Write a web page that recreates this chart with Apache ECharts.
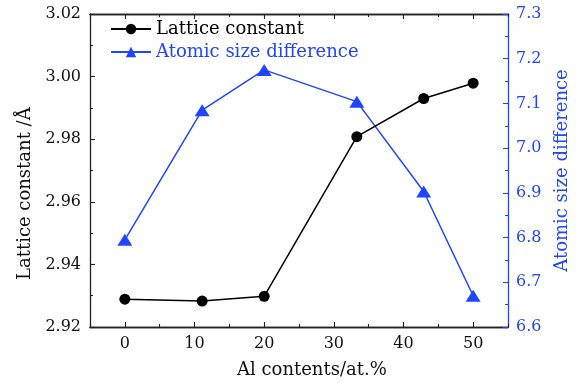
<!DOCTYPE html>
<html>
<head>
<meta charset="utf-8">
<script src="https://cdn.jsdelivr.net/npm/echarts@6/dist/echarts.min.js"></script>
<style>
  html, body { margin: 0; padding: 0; background: #fff; }
  #chart { width: 579px; height: 385px; }
</style>
</head>
<body>
<div id="chart"></div>
<script>
// Al content (at.%) of each alloy
const alContent = [0, 11.1, 20, 33.3, 42.9, 50];
// Lattice constant (Å)
const latticeConstant = [2.9289, 2.9283, 2.9298, 2.9808, 2.9930, 2.9979];
// Atomic size difference
const atomicSizeDiff = [6.795, 7.085, 7.175, 7.104, 6.903, 6.670];
// x-axis tick positions
const xMajorTicks = [0, 10, 20, 30, 40, 50];
const xMinorTicks = [-5, 5, 15, 25, 35, 45, 55];

const BLACK = '#000000';
const BLUE = '#1f45ff';
const FONT = 'DejaVu Serif';

const toPairs = (xs, ys) => xs.map((x, i) => [x, ys[i]]);

const chart = echarts.init(document.getElementById('chart'), null, { renderer: 'canvas' });

// builds one x axis: major ticks with labels, or minor ticks only
function makeX(position, ticks, len, withLabels) {
  return {
    type: 'value', min: -5, max: 55, position: position,
    splitLine: { show: false },
    axisLine: { show: true, onZero: false, lineStyle: { color: '#222', width: 1.3 } },
    axisTick: { show: true, inside: true, length: len, customValues: ticks,
                lineStyle: { color: '#222', width: 1.1 } },
    axisLabel: withLabels
      ? { show: true, margin: 9, color: '#111', fontFamily: FONT, fontSize: 16, customValues: ticks }
      : { show: false }
  };
}

chart.setOption({
  animation: false,
  backgroundColor: '#fff',
  grid: { left: 90, right: 66, top: 14, bottom: 58, containLabel: false },
  legend: {
    left: 105, top: 15, orient: 'vertical',
    itemWidth: 40, itemHeight: 13, itemGap: 5,
    textStyle: { fontFamily: FONT, fontSize: 18, color: BLACK },
    data: [
      { name: 'Lattice constant', textStyle: { color: BLACK } },
      { name: 'Atomic size difference', textStyle: { color: BLUE } }
    ]
  },
  xAxis: [
    makeX('bottom', xMajorTicks, 5, true),
    makeX('bottom', xMinorTicks, 3, false),
    makeX('top', xMajorTicks, 5, false),
    makeX('top', xMinorTicks, 3, false)
  ],
  yAxis: [
    {
      type: 'value', position: 'left', min: 2.92, max: 3.02, interval: 0.02,
      splitLine: { show: false },
      axisLine: { show: true, onZero: false, lineStyle: { color: '#222', width: 1.3 } },
      axisTick: { show: true, inside: true, length: 5, lineStyle: { color: '#222', width: 1.1 } },
      minorTick: { show: true, splitNumber: 2, length: 3, lineStyle: { color: '#222', width: 1.1 } },
      axisLabel: {
        margin: 9, color: '#111', fontFamily: FONT, fontSize: 16,
        formatter: v => v.toFixed(2)
      }
    },
    {
      type: 'value', position: 'right', min: 6.6, max: 7.3, interval: 0.1,
      splitLine: { show: false },
      axisLine: { show: true, onZero: false, lineStyle: { color: BLUE, width: 1.3 } },
      axisTick: { show: true, inside: true, length: 5, lineStyle: { color: BLUE, width: 1.1 } },
      minorTick: { show: true, splitNumber: 2, length: 3, lineStyle: { color: BLUE, width: 1.1 } },
      axisLabel: {
        margin: 8, color: BLUE, fontFamily: FONT, fontSize: 16,
        formatter: v => v.toFixed(1)
      },
      name: 'Atomic size difference',
      nameLocation: 'middle', nameRotate: 90, nameGap: 45,
      nameTextStyle: { color: BLUE, fontFamily: FONT, fontSize: 18 }
    }
  ],
  graphic: [
    {
      type: 'text', left: 237, top: 361,
      style: { text: 'Al contents/at.%', fill: '#111', font: '18px "DejaVu Serif"' }
    },
    {
      type: 'text', x: 16, y: 280, rotation: Math.PI / 2,
      style: { text: 'Lattice constant /Å', fill: '#111', font: '18px "DejaVu Serif"' }
    }
  ],
  series: [
    {
      name: 'Lattice constant', type: 'line',
      xAxisIndex: 0, yAxisIndex: 0,
      data: toPairs(alContent, latticeConstant),
      symbol: 'circle', symbolSize: 11,
      itemStyle: { color: BLACK },
      lineStyle: { color: BLACK, width: 1.5 },
      z: 3
    },
    {
      name: 'Atomic size difference', type: 'line',
      xAxisIndex: 0, yAxisIndex: 1,
      data: toPairs(alContent, atomicSizeDiff),
      symbol: 'triangle', symbolSize: [15, 12],
      itemStyle: { color: BLUE },
      lineStyle: { color: BLUE, width: 1.5 },
      z: 2
    }
  ]
});
</script>
</body>
</html>
